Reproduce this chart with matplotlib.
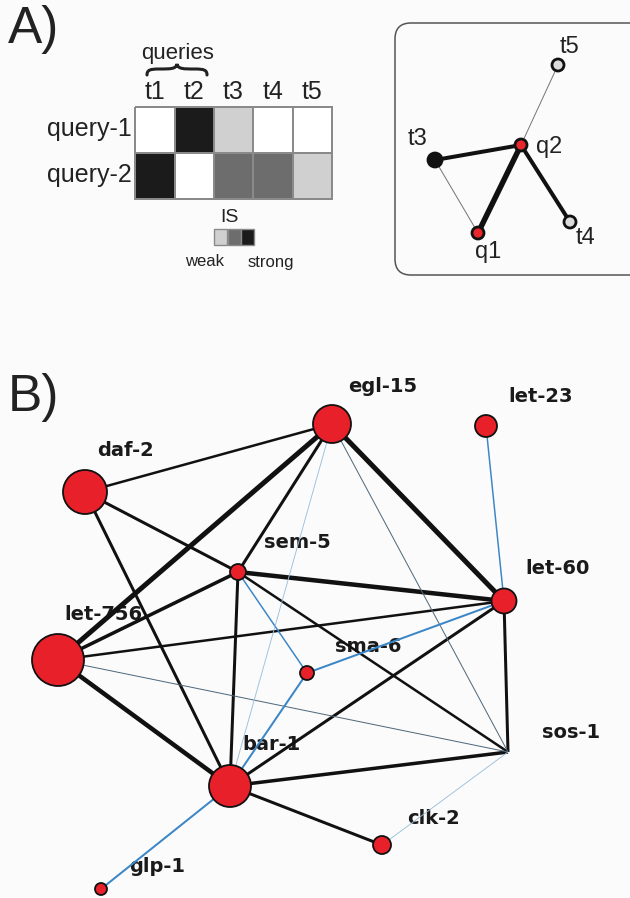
import matplotlib
matplotlib.use("Agg")
import matplotlib.pyplot as plt
from matplotlib.colors import ListedColormap
from matplotlib.patches import Circle, FancyBboxPatch, PathPatch, Rectangle
from matplotlib.path import Path
import numpy as np

# ---------------- data ----------------
# Panel A: interaction strength (0 none, 1 weak, 2 medium, 3 strong)
targets = ["t1", "t2", "t3", "t4", "t5"]
queries = ["query-1", "query-2"]
is_query1 = [0, 3, 1, 0, 0]
is_query2 = [3, 0, 2, 2, 1]
is_levels = [1, 2, 3]

# Panel A: small network
small_nodes = ["t5", "t3", "q2", "q1", "t4"]
small_kind = ["target_weak", "target_strong", "query", "query", "target_weak"]
small_edges = [("q2", "t5", 1), ("q2", "t3", 3), ("t3", "q1", 1),
               ("q1", "q2", 4), ("q2", "t4", 3)]

# Panel B: gene network
genes = ["egl-15", "let-23", "daf-2", "sem-5", "let-60", "let-756",
         "sma-6", "sos-1", "bar-1", "clk-2", "glp-1"]
gene_size = [19, 11, 22, 8, 12.5, 26, 7, 0, 21, 9, 6]
# (gene a, gene b, weight, type)
gene_edges = [
    ("daf-2", "egl-15", 2.5, "genetic"),
    ("daf-2", "sem-5", 3.0, "genetic"),
    ("daf-2", "bar-1", 3.0, "genetic"),
    ("egl-15", "let-756", 5.0, "genetic"),
    ("egl-15", "sem-5", 3.0, "genetic"),
    ("egl-15", "let-60", 5.0, "genetic"),
    ("sem-5", "let-756", 3.5, "genetic"),
    ("sem-5", "let-60", 4.5, "genetic"),
    ("sem-5", "bar-1", 3.0, "genetic"),
    ("sem-5", "sos-1", 2.5, "genetic"),
    ("let-756", "let-60", 2.5, "genetic"),
    ("let-756", "bar-1", 4.5, "genetic"),
    ("let-60", "bar-1", 3.0, "genetic"),
    ("let-60", "sos-1", 3.0, "genetic"),
    ("bar-1", "sos-1", 3.5, "genetic"),
    ("bar-1", "clk-2", 3.0, "genetic"),
    ("let-756", "sos-1", 1.0, "weak"),
    ("egl-15", "sos-1", 1.0, "weak"),
    ("let-23", "let-60", 1.5, "physical"),
    ("let-60", "sma-6", 2.0, "physical"),
    ("sem-5", "sma-6", 1.5, "physical"),
    ("sma-6", "bar-1", 2.0, "physical"),
    ("bar-1", "glp-1", 2.0, "physical"),
    ("egl-15", "bar-1", 0.9, "faint"),
    ("clk-2", "sos-1", 0.9, "faint"),
]

# ---------------- layout (pixel canvas) ----------------
W, H = 630, 898
heat_x = [135, 175, 214, 253, 293, 332]
heat_y = [107, 153, 199]
legend_x = [214, 228, 241]
legend_w, legend_h, legend_y = 13, 16, 229

small_pos = {"t5": (558, 65), "t3": (435, 160), "q2": (521, 145),
             "q1": (478, 233), "t4": (570, 222)}
small_label = {"t5": (569, 47), "t3": (418, 139), "q2": (549, 147),
               "q1": (488, 252), "t4": (585, 238)}

gene_pos = {"egl-15": (332, 424), "let-23": (486, 426), "daf-2": (85, 492),
            "sem-5": (238, 572), "let-60": (504, 601), "let-756": (58, 660),
            "sma-6": (307, 673), "sos-1": (508, 752), "bar-1": (230, 786),
            "clk-2": (382, 845), "glp-1": (101, 889)}
gene_label = {"egl-15": (383, 386), "let-23": (541, 396), "daf-2": (125, 451),
              "sem-5": (297, 543), "let-60": (558, 569), "let-756": (103, 615),
              "sma-6": (368, 647), "sos-1": (571, 733), "bar-1": (271, 745),
              "clk-2": (434, 818), "glp-1": (157, 866)}

edge_color = {"genetic": "#111111", "weak": "#50697c",
              "physical": "#3b86c6", "faint": "#9cc0dc"}

PX = 0.72  # points per pixel at 100 dpi
bg = "#fbfbfb"

fig = plt.figure(figsize=(W / 100, H / 100), dpi=100, facecolor=bg)
ax = fig.add_axes([0, 0, 1, 1])
ax.set_xlim(0, W)
ax.set_ylim(H, 0)
ax.set_facecolor(bg)
ax.axis("off")

sans = "Liberation Sans"

# ---------------- panel A ----------------
ax.text(8, 29, "A)", fontsize=37, family=sans, va="center", ha="left", color="#222222")
ax.text(8, 398, "B)", fontsize=37, family=sans, va="center", ha="left", color="#222222")

shades = ["#ffffff", "#d0d0d0", "#6d6d6d", "#1b1b1b"]
cmap = ListedColormap(shades)
grid = np.array([is_query1, is_query2])
ax.pcolormesh(heat_x, heat_y, grid, cmap=cmap, vmin=-0.5, vmax=3.5,
              edgecolors="#8a8a8a", linewidth=1.2)

for i, t in enumerate(targets):
    xc = (heat_x[i] + heat_x[i + 1]) / 2
    ax.text(xc, 92, t, fontsize=18, family=sans, ha="center", va="center", color="#222222")
for j, q in enumerate(queries):
    yc = (heat_y[j] + heat_y[j + 1]) / 2
    ax.text(132, yc - 1, q, fontsize=18, family=sans, ha="right", va="center", color="#222222")

ax.text(178, 53, "queries", fontsize=16, family=sans, ha="center", va="center", color="#222222")

# curly brace over t1/t2
bx0, bx1, by = 147, 207, 75
bm = (bx0 + bx1) / 2
brace = Path(
    [(bx0, by), (bx0, 70), (bx0 + 3, 69), (bx0 + 12, 69),
     (bm - 6, 69), (bm - 1, 69), (bm, 64),
     (bm + 1, 69), (bm + 6, 69), (bx1 - 12, 69),
     (bx1 - 3, 69), (bx1, 70), (bx1, by)],
    [Path.MOVETO, Path.CURVE4, Path.CURVE4, Path.CURVE4,
     Path.CURVE4, Path.CURVE4, Path.CURVE4,
     Path.CURVE4, Path.CURVE4, Path.CURVE4,
     Path.CURVE4, Path.CURVE4, Path.CURVE4])
ax.add_patch(PathPatch(brace, fill=False, lw=2.2, ec="#222222", capstyle="round"))

# IS legend
ax.text(229, 217, "IS", fontsize=14, family=sans, ha="center", va="center", color="#222222")
for lx, lvl in zip(legend_x, is_levels):
    ax.add_patch(Rectangle((lx, legend_y), legend_w, legend_h, fc=shades[lvl],
                           ec="#8a8a8a", lw=1.0))
ax.text(205, 262, "weak", fontsize=12, family=sans, ha="center", va="center", color="#222222")
ax.text(271, 262, "strong", fontsize=12, family=sans, ha="center", va="center", color="#222222")

# small network box
ax.add_patch(FancyBboxPatch((395, 23), 260, 252, boxstyle="round,pad=0,rounding_size=16",
                            fc="none", ec="#555555", lw=1.1))
small_w = {1: (1.0, "#777777"), 3: (4.0, "#111111"), 4: (5.5, "#111111")}
for a, b, w in small_edges:
    (xa, ya), (xb, yb) = small_pos[a], small_pos[b]
    lw, col = small_w[w]
    ax.plot([xa, xb], [ya, yb], color=col, lw=lw * PX, solid_capstyle="round", zorder=2)
kind_fc = {"target_weak": "#dcdcdc", "target_strong": "#111111", "query": "#e8262c"}
for n, k in zip(small_nodes, small_kind):
    r = 7 if k == "target_strong" else 6
    ax.add_patch(Circle(small_pos[n], r, fc=kind_fc[k], ec="#111111", lw=2.0, zorder=3))
    ax.text(*small_label[n], n, fontsize=17, family=sans, ha="center", va="center",
            color="#222222", zorder=4)

# ---------------- panel B ----------------
for n in genes:
    ax.text(*gene_label[n], n, fontsize=14, family="DejaVu Sans", fontweight="bold",
            ha="center", va="center", color="#1a1a1a", zorder=1)

for a, b, w, kind in gene_edges:
    (xa, ya), (xb, yb) = gene_pos[a], gene_pos[b]
    ax.plot([xa, xb], [ya, yb], color=edge_color[kind], lw=w * PX,
            solid_capstyle="butt", zorder=2)

for n, r in zip(genes, gene_size):
    if r > 0:
        ax.add_patch(Circle(gene_pos[n], r, fc="#e8202a", ec="#111111", lw=1.3, zorder=3))

fig.savefig("out.png", dpi=100, facecolor=bg)
